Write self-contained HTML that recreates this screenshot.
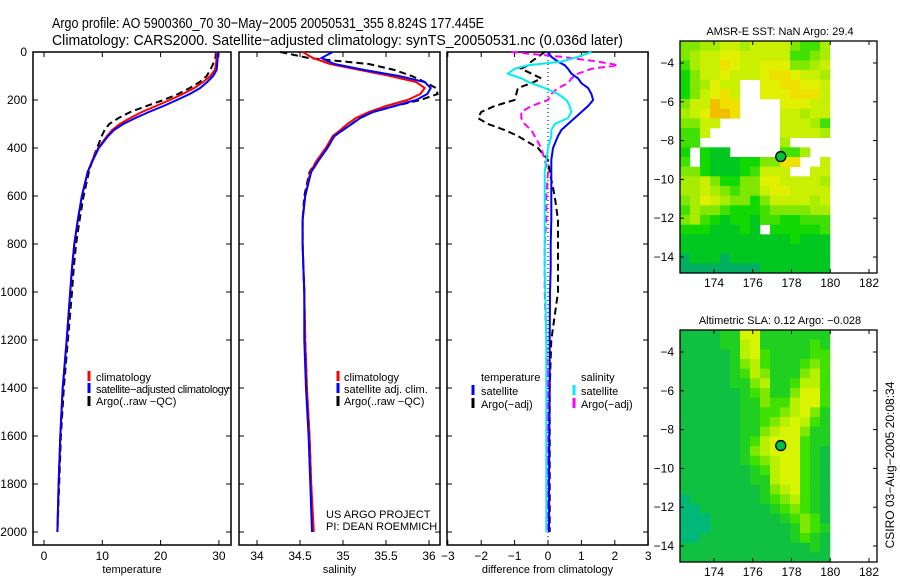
<!DOCTYPE html>
<html><head><meta charset="utf-8"><style>
body{margin:0;background:#fff;width:900px;height:580px;overflow:hidden;font-family:"Liberation Sans",sans-serif}
svg text{font-family:"Liberation Sans",sans-serif;fill:#000}
</style></head><body>
<svg id="fig" width="900" height="580" viewBox="0 0 900 580" xmlns="http://www.w3.org/2000/svg">
<text x="52" y="28" font-size="15" textLength="432" lengthAdjust="spacingAndGlyphs">Argo profile: AO 5900360_70 30−May−2005 20050531_355 8.824S 177.445E</text>
<text x="52" y="45" font-size="15" textLength="571" lengthAdjust="spacingAndGlyphs">Climatology: CARS2000. Satellite−adjusted climatology: synTS_20050531.nc (0.036d later)</text>
<g id="g"></g>
</svg>
<script>
// Profile data
const depthT = [0,25,50,75,100,125,150,175,200,225,250,275,300,325,350,400,450,500,600,700,800,900,1000,1200,1400,1600,1800,2000];
const tempClim = [29.6,29.6,29.5,29.3,28.5,27.3,25.8,23.8,21.6,19.2,16.8,14.8,13.0,11.7,10.8,9.3,8.3,7.5,6.5,5.8,5.2,4.8,4.5,3.9,3.2,2.8,2.5,2.3];
const tempSat = [29.8,29.8,29.7,29.6,29.0,28.0,26.8,25.0,22.8,20.5,18.0,15.7,13.6,12.0,11.0,9.4,8.4,7.5,6.5,5.8,5.2,4.8,4.5,3.9,3.2,2.8,2.5,2.3];
const tempArgo = [29.5,29.4,29.0,28.5,27.9,26.7,25.0,23.0,20.5,17.6,14.8,12.8,11.2,10.4,9.9,9.1,8.3,7.7,6.8,6.1,5.5,5.1,4.8,4.1,3.4,2.9,2.6,2.3];
const salClim = [34.53,34.65,34.85,35.2,35.55,35.85,35.95,35.9,35.75,35.5,35.3,35.15,35.05,34.97,34.88,34.8,34.7,34.62,34.56,34.53,34.53,34.54,34.55,34.56,34.58,34.61,34.63,34.66];
const salSat = [34.88,34.75,34.9,35.25,35.65,35.95,36.02,35.98,35.85,35.6,35.35,35.2,35.1,35.0,34.9,34.82,34.72,34.63,34.56,34.53,34.53,34.54,34.55,34.55,34.57,34.6,34.62,34.64];
const salArgo = [34.27,34.6,35.3,35.6,35.8,35.95,36.08,36.1,35.9,35.6,35.35,35.2,35.1,35.0,34.9,34.8,34.7,34.61,34.55,34.53,34.53,34.54,34.55,34.56,34.58,34.61,34.63,34.65];
const depthD = [0,20,40,55,70,90,110,130,150,175,200,225,250,275,300,325,350,400,450,500,600,700,800,900,1000,1200,1400,1600,1800,2000];
const dTempSat = [0,0.1,0.3,0.5,0.6,0.7,0.9,1.0,1.2,1.3,1.35,1.2,1.0,0.8,0.6,0.4,0.3,0.15,0.1,0.1,0.1,0.1,0.08,0.08,0.06,0.05,0.05,0.04,0.03,0.03];
const dSalSat = [1.3,0.9,0.4,-0.6,-1.0,-1.2,-0.8,-0.5,-0.1,0.3,0.55,0.65,0.7,0.6,0.2,0.1,0.1,0.0,-0.05,-0.1,-0.1,-0.1,-0.1,-0.1,-0.08,-0.05,-0.05,-0.05,-0.05,-0.05];
const dTempArgo = [-0.1,-0.3,-0.5,-0.6,-0.8,-0.5,-0.2,-0.5,-0.9,-0.95,-1.0,-1.6,-2.0,-2.1,-1.8,-1.3,-0.9,-0.3,0.0,0.05,0.2,0.3,0.3,0.3,0.3,0.1,0.05,0.05,0.05,0.05];
const dSalArgo = [-1.1,0.4,1.5,2.1,1.3,0.9,0.7,0.6,0.3,0.1,0.0,-0.5,-0.8,-0.8,-0.7,-0.5,-0.4,-0.2,-0.1,0.0,-0.05,-0.05,-0.1,-0.1,-0.1,-0.05,0,0,0,0];
const depthTicks = [0,200,400,600,800,1000,1200,1400,1600,1800,2000];
const tempTicks = [0,10,20,30];
const salTicks = [34,34.5,35,35.5,36];
const diffTicks = [-3,-2,-1,0,1,2,3];
// Map data (level codes, '.' = missing)
const sstGrid = ["445566566664335","456677666663345","356687667774456","246676667887665","245766..7788776","246786..7778886","466988....77766","567998....66566","4466......66653","336.......66665","33........5....","2.211.....335..","3.2111224488..6","44211123666..66","556422447766665","556543446776666","457654424666656","354432223444455","453212213322333","22211121.222223","111111111112111","111111111111111","011101111111111","000000001111111"];
const slaGrid = ["111122662222222","111122562222232","111112563222233","111112453222343","111112354222453","111112245223553","111111234224663","111111224335663","111111223345642","111111223456532","111111224566422","111111235666322","111111245666321","111111234566321","111111123566321","111111122566321","111111112456321","011111112345321","001111111234321","000111111123431","000111111112432","001111111112321","111111111111121","111111111111111"];
const sstColors = ["#00b060","#00c820","#10d800","#40e000","#80e800","#a8ec00","#c8f000","#e0f000","#f0e000","#f0c000"];
const slaColors = ["#00b878","#10c040","#20d020","#40e000","#80e800","#b8f000","#d8f400"];
const argoLon = 177.445, argoLat = -8.824;
const lonTicks = [174,176,178,180,182];
const latTicks = [-4,-6,-8,-10,-12,-14];

const NS="http://www.w3.org/2000/svg", G=document.getElementById('g');
function el(t,a,p){const e=document.createElementNS(NS,t);for(const k in a)e.setAttribute(k,a[k]);(p||G).appendChild(e);return e;}
const yD = d => 52 + d*0.24;
const TOP=52, BOT=545;
function panel(name,x0,x1,xs,ticks,fmt,title){
  const r=el('rect',{x:x0,y:TOP,width:x1-x0,height:BOT-TOP,fill:'none',stroke:'#000','stroke-width':1.5});
  
  
  ticks.forEach(v=>{const x=xs(v);
    el('line',{x1:x,x2:x,y1:TOP,y2:TOP+5,stroke:'#000'});el('line',{x1:x,x2:x,y1:BOT,y2:BOT-5,stroke:'#000'});
    const t=el('text',{x:x,y:560,'font-size':12,'text-anchor':'middle'});t.textContent=fmt(v);
    
    
  });
  depthTicks.forEach(d=>{const y=yD(d);
    el('line',{x1:x0,x2:x0+5,y1:y,y2:y,stroke:'#000'});el('line',{x1:x1,x2:x1-5,y1:y,y2:y,stroke:'#000'});});
  const tt=el('text',{x:(x0+x1)/2,y:573,'font-size':11,'text-anchor':'middle'});tt.textContent=title;
  
  
}
function series(name,xs,vals,deps,color,dash,w){
  const pts=vals.map((v,i)=>xs(v).toFixed(1)+','+yD(deps[i]).toFixed(1)).join(' ');
  const p=el('polyline',{points:pts,fill:'none',stroke:color,'stroke-width':w||2,'stroke-dasharray':dash||'none'});
  
  
}
function txt(name,x,y,s,size,anchor){const t=el('text',{x:x,y:y,'font-size':size||12,'text-anchor':anchor||'start'});t.textContent=s;
  
  
  return t;}
function mark(name,x,y,c){const l=el('line',{x1:x,x2:x,y1:y-7,y2:y+3,stroke:c,'stroke-width':3});
  
  }

depthTicks.forEach(d=>{txt('depth-tick-label',27,yD(d)+4,String(d),12,'end');});

// Panel 1
const xT=v=>44+v*5.83;
panel('temperature-panel',33,231,xT,tempTicks,String,'temperature');
series('temp-argo-line',xT,tempArgo,depthT,'#000','7,4');
series('temp-climatology-line',xT,tempClim,depthT,'#f00');
series('temp-satellite-line',xT,tempSat,depthT,'#00f');
mark('legend-climatology-marker',89,378,'#f00');txt('legend-climatology',96,381,'climatology',11);
mark('legend-satellite-marker',89,390,'#00f');txt('legend-satellite',96,393,'satellite−adjusted climatology',11).setAttribute('textLength','133');
mark('legend-argo-marker',89,403,'#000');txt('legend-argo',96,405,'Argo(..raw −QC)',11);

// Panel 2
const xS=v=>257+(v-34)*86;
panel('salinity-panel',239,440,xS,salTicks,String,'salinity');
series('sal-argo-line',xS,salArgo,depthT,'#000','7,4');
series('sal-climatology-line',xS,salClim,depthT,'#f00');
series('sal-satellite-line',xS,salSat,depthT,'#00f');
mark('legend2-climatology-marker',338,378,'#f00');txt('legend2-climatology',344,381,'climatology',11);
mark('legend2-satellite-marker',338,390,'#00f');txt('legend2-satellite',344,393,'satellite adj. clim.',11);
mark('legend2-argo-marker',338,403,'#000');txt('legend2-argo',344,405,'Argo(..raw −QC)',11);
txt('project-label',326,518,'US ARGO PROJECT',11);
txt('pi-label',326,530,'PI: DEAN ROEMMICH',11);

// Panel 3
const xDf=v=>548+v*33.4;
panel('difference-panel',447,648,xDf,diffTicks,v=>v<0?'−'+(-v):String(v),'difference from climatology');
el('line',{x1:548,x2:548,y1:TOP,y2:BOT,stroke:'#000','stroke-dasharray':'1,3'});
series('diff-temp-argo-line',xDf,dTempArgo,depthD,'#000','7,4');
series('diff-sal-argo-line',xDf,dSalArgo,depthD,'#f0f','7,4');
series('diff-temp-satellite-line',xDf,dTempSat,depthD,'#00f');
series('diff-sal-satellite-line',xDf,dSalSat,depthD,'#0ee');
txt('legend3-temperature-head',481,381,'temperature',11);
mark('legend3-temp-sat-marker',473,392,'#00f');txt('legend3-temp-sat',481,395,'satellite',11);
mark('legend3-temp-argo-marker',473,405,'#000');txt('legend3-temp-argo',481,408,'Argo(−adj)',11);
txt('legend3-salinity-head',581,381,'salinity',11);
mark('legend3-sal-sat-marker',574,392,'#0ee');txt('legend3-sal-sat',581,395,'satellite',11);
mark('legend3-sal-argo-marker',574,405,'#f0f');txt('legend3-sal-argo',581,408,'Argo(−adj)',11);

// Maps
function map(name,grid,colors,oy,title){
  const xL=lon=>714+(lon-174)*19.375, yL=lat=>oy+63+(-4-lat)*19.4;
  const top=oy+41,bot=oy+273,cw=10,ch=(bot-top)/grid.length;
  grid.forEach((row,r)=>{[...row].forEach((c,i)=>{if(c==='.')return;
    const cell=el('rect',{x:680+i*cw,y:(top+r*ch).toFixed(2),width:cw+0.3,height:(ch+0.3).toFixed(2),fill:colors[+c]});
    
    
  });});
  const f=el('rect',{x:680,y:top,width:197,height:bot-top,fill:'none',stroke:'#000','stroke-width':1.3});
  
  
  lonTicks.forEach(v=>{const x=xL(v);el('line',{x1:x,x2:x,y1:top,y2:top+4,stroke:'#000'});el('line',{x1:x,x2:x,y1:bot,y2:bot-4,stroke:'#000'});
    txt(name+'-lon-label',x,bot+14,String(v),12,'middle');});
  latTicks.forEach(v=>{const y=yL(v);el('line',{x1:680,x2:684,y1:y,y2:y,stroke:'#000'});el('line',{x1:877,x2:873,y1:y,y2:y,stroke:'#000'});
    txt(name+'-lat-label',674,y+4,'−'+(-v),12,'end');});
  const d=el('circle',{cx:xL(argoLon),cy:yL(argoLat),r:5,fill:'#00c040',stroke:'#000','stroke-width':1.3});
  
  
  txt(name+'-title',780,oy+35,title,11,'middle');
}
map('sst-map',sstGrid,sstColors,0,'AMSR-E SST: NaN Argo: 29.4');
map('sla-map',slaGrid,slaColors,289,'Altimetric SLA: 0.12 Argo: −0.028');
const c=txt('timestamp-label',0,0,'CSIRO 03−Aug−2005 20:08:34',12,'middle');
c.setAttribute('transform','translate(894,465) rotate(-90)');
</script>
</body></html>
